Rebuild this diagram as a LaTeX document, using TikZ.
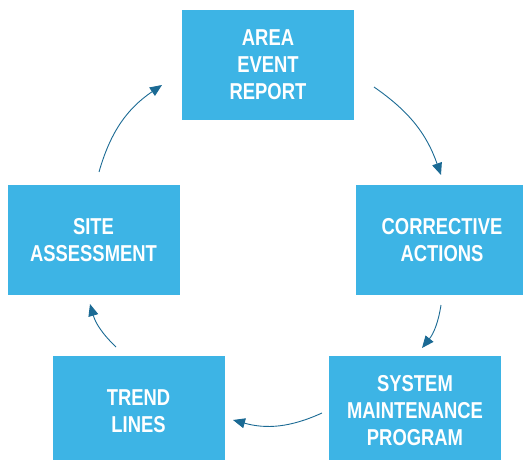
\documentclass[tikz,border=0pt]{standalone}
\usepackage{fontspec}
\setmainfont{Liberation Sans}[FakeStretch=0.8]
\usetikzlibrary{arrows.meta}
\definecolor{boxBlue}{HTML}{3DB4E5}
\definecolor{arrBlue}{HTML}{1B6A94}

\begin{document}
\begin{tikzpicture}[x=1pt, y=-1pt
    , box/.style={fill=boxBlue, minimum width = 172pt, minimum height = 110pt, text = white, align=center, font=\fontsize{23}{27}\selectfont\bfseries}
    , flowArr/.style={draw=arrBlue, line width=0.9pt, -{Triangle[length=12pt, width=10pt]}}
    ]
\useasboundingbox (0,0) rectangle (523,460);
\node[box] (area) at (268,65) {AREA\\EVENT\\REPORT};
\node[box] (corr) at (442,240) {CORRECTIVE\\ACTIONS};
\node[box] (sysm) at (415,411) {SYSTEM\\MAINTENANCE\\PROGRAM};
\node[box] (trend) at (138.5,411) {TREND\\LINES};
\node[box] (site) at (93.5,240) {SITE\\ASSESSMENT};
% arrow ends, kept clear of the boxes
\coordinate (areaOut) at (374,87);   \coordinate (corrIn) at (441,175);
\coordinate (corrOut) at (441,305);  \coordinate (sysmIn) at (422,348);
\coordinate (sysmOut) at (322,413);  \coordinate (trendIn) at (233,420);
\coordinate (trendOut) at (116,347); \coordinate (siteIn) at (90,304);
\coordinate (siteOut) at (99,172);   \coordinate (areaIn) at (162,85);
\draw[flowArr] (areaOut) to[bend left=18] (corrIn);
\draw[flowArr] (corrOut) to[bend left=15] (sysmIn);
\draw[flowArr] (sysmOut) to[bend left=20] (trendIn);
\draw[flowArr] (trendOut) to[bend left=15] (siteIn);
\draw[flowArr] (siteOut) to[bend left=20] (areaIn);
\end{tikzpicture}
\end{document}
